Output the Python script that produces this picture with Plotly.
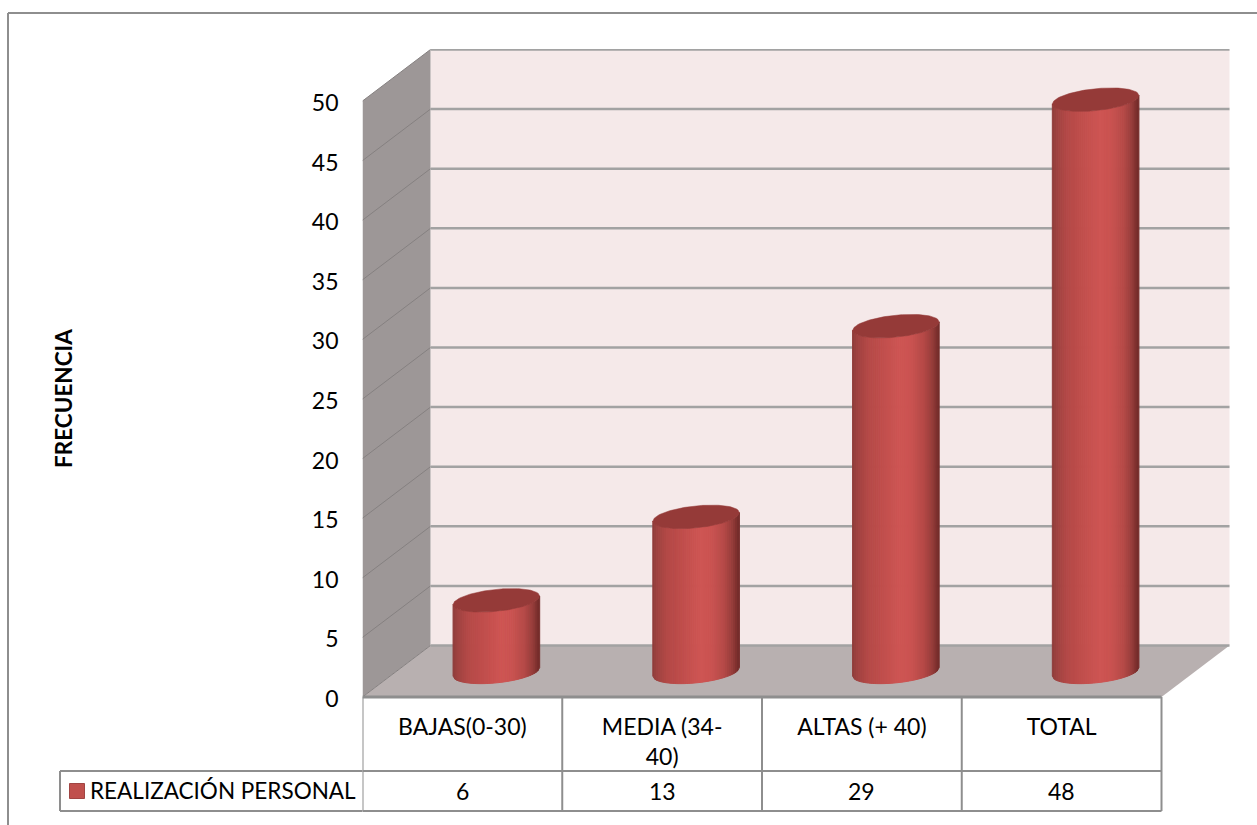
import numpy as np
import plotly.graph_objects as go

# Chart content
CATEGORIES = ["BAJAS(0-30)", "MEDIA (34-<br>40)", "ALTAS (+ 40)", "TOTAL"]
VALUES = [6, 13, 29, 48]
SERIES_NAME = "REALIZACIÓN PERSONAL"
AXIS_TITLE = "FRECUENCIA"
Y_TICKS = [0, 5, 10, 15, 20, 25, 30, 35, 40, 45, 50]

# Canvas and plot geometry, in pixels
WIDTH, HEIGHT = 1257, 825
LEFT, RIGHT, TOP, BOTTOM = 362.5, 1230.5, 49.0, 697.0
PX_PER_CAT = 199.75
PX_PER_UNIT = 11.92
DEPTH_PX_X, DEPTH_PX_Y = 68.0, 51.5

# Same geometry expressed in axis units
X_MAX = (RIGHT - LEFT) / PX_PER_CAT
Y_MAX = (BOTTOM - TOP) / PX_PER_UNIT
DX = DEPTH_PX_X / PX_PER_CAT
DY = DEPTH_PX_Y / PX_PER_UNIT
N_CATS = len(VALUES)

# Colours
FONT = "Lato"
FONT_SIZE = 23
TEXT = "#000000"
LINE = "#8e8e8e"
BACK_WALL = "#f5e9e9"
SIDE_WALL = "#9d9797"
FLOOR = "#b8b0b0"
GRID = "#a2a2a2"
SIDE_GRID = "#858080"
CAP = "#953a38"
KEY = "#c0504d"
SHADE_POS = [-1.0, -0.9, -0.65, -0.3, 0.1, 0.35, 0.65, 0.85, 1.0]
SHADE_RGB = [
    (140, 60, 58), (158, 66, 64), (180, 73, 71), (192, 78, 76), (206, 85, 83),
    (202, 83, 81), (182, 74, 72), (150, 60, 58), (112, 42, 40),
]


def shade(u):
    r, g, b = (np.interp(u, SHADE_POS, [c[i] for c in SHADE_RGB]) for i in range(3))
    return f"rgb({r:.0f},{g:.0f},{b:.0f})"


fig = go.Figure()


def polygon(xs, ys, fill, line_color=None, line_width=0):
    fig.add_trace(go.Scatter(
        x=xs, y=ys, mode="lines", fill="toself", fillcolor=fill,
        line=dict(color=line_color or fill, width=line_width),
        hoverinfo="skip", showlegend=False, cliponaxis=False,
    ))


# Box walls and floor of the 3-D frame
top_val = Y_TICKS[-1]
polygon([DX, DX + N_CATS, DX + N_CATS, DX], [DY, DY, top_val + DY, top_val + DY], BACK_WALL)
polygon([0, DX, DX, 0], [0, DY, top_val + DY, top_val], SIDE_WALL)
polygon([0, N_CATS, N_CATS + DX, DX], [0, 0, DY, DY], FLOOR)

# Gridlines run across the back wall and fold down the side wall
back_x, back_y, side_x, side_y = [], [], [], []
for t in Y_TICKS:
    back_x += [DX, DX + N_CATS, None]
    back_y += [t + DY, t + DY, None]
    side_x += [0, DX, None]
    side_y += [t, t + DY, None]
fig.add_trace(go.Scatter(x=side_x, y=side_y, mode="lines", line=dict(color=SIDE_GRID, width=1),
                         hoverinfo="skip", showlegend=False, cliponaxis=False))
fig.add_trace(go.Scatter(x=back_x, y=back_y, mode="lines", line=dict(color=GRID, width=2.5),
                         hoverinfo="skip", showlegend=False, cliponaxis=False))

# Cylinders: each one is a stack of thin vertical strips so the body reads as shaded
HALF_W = 43.3 / PX_PER_CAT
ELL_R = 40.4
ELL_DX = 15.6
ELL_DY = 11.8 / PX_PER_UNIT
T0 = np.arctan2(ELL_DX, ELL_R)
N_STRIPS = 44
edges = np.linspace(-1, 1, N_STRIPS + 1)
front = lambda u: ELL_DY * np.sin(T0 - np.arccos(u))
back = lambda u: ELL_DY * np.sin(T0 + np.arccos(u))

for i, v in enumerate(VALUES):
    cx = i + 0.5 + DX / 2
    base = DY / 2 - 0.05
    for a, b in zip(edges[:-1], edges[1:]):
        xa, xb = cx + a * HALF_W, cx + b * HALF_W
        polygon(
            [xa, xb, xb, xa, xa],
            [base + front(a), base + front(b), base + v + front(b), base + v + front(a), base + front(a)],
            shade((a + b) / 2), line_width=1,
        )
    u = np.linspace(-1, 1, 60)
    cap_x = np.concatenate([cx + u * HALF_W, cx + u[::-1] * HALF_W])
    cap_y = np.concatenate([base + v + front(u), base + v + back(u[::-1])])
    polygon(cap_x, cap_y, CAP, line_width=0.5)

# Table under the plot, lined up with the category slots
TABLE_ROW1 = 771
TABLE_ROW2 = 811
LEGEND_LEFT = 60
paper_x = lambda px: px / WIDTH
paper_y = lambda px: 1 - px / HEIGHT


def line_shape(x0, y0, x1, y1, xref="x", width=2):
    return dict(type="line", xref=xref, yref="paper", x0=x0, x1=x1,
                y0=paper_y(y0), y1=paper_y(y1), line=dict(color=LINE, width=width))


shapes = [line_shape(0, BOTTOM, N_CATS, BOTTOM, width=3)]
for k in range(N_CATS + 1):
    shapes.append(line_shape(k, BOTTOM, k, TABLE_ROW2))
for row in (TABLE_ROW1, TABLE_ROW2):
    shapes.append(line_shape(0, row, N_CATS, row))
    shapes.append(line_shape(paper_x(LEGEND_LEFT), row, paper_x(LEFT), row, xref="paper"))
shapes.append(line_shape(paper_x(LEGEND_LEFT), TABLE_ROW1, paper_x(LEGEND_LEFT), TABLE_ROW2, xref="paper"))

# Legend key inside the table
shapes.append(dict(type="rect", xref="paper", yref="paper",
                   x0=paper_x(69.5), x1=paper_x(84.5), y0=paper_y(798.5), y1=paper_y(783.5),
                   fillcolor=KEY, line=dict(color="#a04543", width=1)))

# Outer chart frame, open on the right and at the bottom
shapes.append(dict(type="line", xref="paper", yref="paper", x0=paper_x(8), x1=1,
                   y0=paper_y(13), y1=paper_y(13), line=dict(color=LINE, width=2)))
shapes.append(dict(type="line", xref="paper", yref="paper", x0=paper_x(8), x1=paper_x(8),
                   y0=paper_y(13), y1=0, line=dict(color=LINE, width=2)))

annotations = [
    dict(text=str(v), x=i + 0.5, xref="x", xanchor="center", y=paper_y(791), yref="paper",
         yanchor="middle", showarrow=False, font=dict(family=FONT, size=FONT_SIZE, color=TEXT))
    for i, v in enumerate(VALUES)
]
annotations.append(dict(text=SERIES_NAME, x=paper_x(88), xanchor="left", xref="paper",
                        y=paper_y(790), yref="paper", yanchor="middle", showarrow=False,
                        font=dict(family=FONT, size=22.5, color=TEXT)))
annotations.append(dict(text=f"<b>{AXIS_TITLE}</b>", x=paper_x(63), xref="paper", xanchor="center",
                        y=paper_y(399), yref="paper", yanchor="middle", textangle=-90, showarrow=False,
                        font=dict(family=FONT, size=22.5, color=TEXT)))

fig.update_layout(
    width=WIDTH, height=HEIGHT, autosize=False,
    margin=dict(l=0, r=0, t=0, b=0),
    paper_bgcolor="white", plot_bgcolor="rgba(0,0,0,0)",
    showlegend=False, shapes=shapes, annotations=annotations,
    font=dict(family=FONT, size=FONT_SIZE, color=TEXT),
    xaxis=dict(
        domain=[LEFT / WIDTH, RIGHT / WIDTH], range=[0, X_MAX], automargin=False,
        tickmode="array", tickvals=[i + 0.5 for i in range(N_CATS)], ticktext=CATEGORIES,
        showgrid=False, zeroline=False, showline=False, ticks="", ticklabelstandoff=14,
    ),
    yaxis=dict(
        domain=[1 - BOTTOM / HEIGHT, 1 - TOP / HEIGHT], range=[0, Y_MAX], automargin=False,
        tickmode="array", tickvals=Y_TICKS,
        showgrid=False, zeroline=False, showline=False, ticks="", ticklabelstandoff=23,
        ticklabelshift=2,
    ),
)

fig.write_html("out.html")
